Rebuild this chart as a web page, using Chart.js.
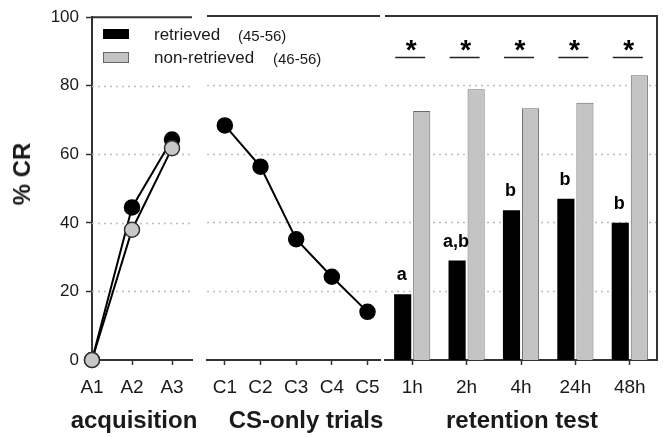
<!DOCTYPE html>
<html>
<head>
<meta charset="UTF-8">
<script src="https://cdn.jsdelivr.net/npm/chart.js@4.4.0/dist/chart.umd.min.js"></script>
<style>
*{box-sizing:border-box;margin:0;padding:0}
body{background:#fff;font-family:"Liberation Sans",Arial,sans-serif;color:#1a1a1a}
#wrap{position:relative;width:663px;height:437px;overflow:hidden}
canvas{position:absolute;top:0}
.t{position:absolute;font-weight:bold;font-size:24px;line-height:24px;text-align:center;white-space:nowrap}
.lg{position:absolute;font-size:17px;line-height:20px;white-space:nowrap}
.lg small{font-size:15px}
.box{position:absolute;width:26px}
</style>
</head>
<body>
<div id="wrap">
  <canvas id="acq" width="210" height="437" style="left:0"></canvas>
  <canvas id="cs" width="200" height="437" style="left:198px"></canvas>
  <canvas id="ret" width="280" height="437" style="left:383px"></canvas>

  <div class="box" style="left:103px;top:29px;height:10px;background:#000"></div>
  <div class="box" style="left:103px;top:52px;height:11px;background:#c4c4c4;border:1px solid #666"></div>
  <div class="lg" style="left:154px;top:25px">retrieved</div>
  <div class="lg" style="left:238px;top:26px"><small>(45-56)</small></div>
  <div class="lg" style="left:154px;top:48px">non-retrieved</div>
  <div class="lg" style="left:273px;top:49px"><small>(46-56)</small></div>

  <div class="t" style="left:22px;top:174px;transform:translate(-50%,-50%) rotate(-90deg)">% CR</div>
  <div class="t" style="left:34px;top:408px;width:200px">acquisition</div>
  <div class="t" style="left:206px;top:408px;width:200px">CS-only trials</div>
  <div class="t" style="left:422px;top:408px;width:200px">retention test</div>
</div>

<script>
const yTicks = [0, 20, 40, 60, 80, 100];

const acqLabels = ["A1", "A2", "A3"];
const acqRetrieved = [0, 44.5, 64.3];
const acqNonRetrieved = [0, 38, 61.8];

const csLabels = ["C1", "C2", "C3", "C4", "C5"];
const csRetrieved = [68.2, 56.2, 35.1, 24.2, 14];

const retLabels = ["1h", "2h", "4h", "24h", "48h"];
const retRetrieved = [19.1, 28.9, 43.5, 46.9, 39.9];
const retNonRetrieved = [72.4, 78.7, 73.2, 74.8, 82.8];
const retLetters = ["a", "a,b", "b", "b", "b"];

const ink = "#333", txt = "#1a1a1a";
const tickFont = { family: "'Liberation Sans', Arial, sans-serif", size: 19 };
const toPts = vals => vals.map((v, i) => ({ x: i, y: v }));

// dotted grid + top frame (and right frame for the bar panel)
const frame = {
  id: "frame",
  beforeDatasetsDraw(chart, args, opts) {
    const { ctx, chartArea: a, scales: { y } } = chart;
    ctx.save();
    ctx.setLineDash([2, 4]);
    ctx.strokeStyle = "#bdbdbd";
    ctx.lineWidth = 1.5;
    yTicks.filter(v => v > 0 && v < 100).forEach(v => {
      const py = Math.round(y.getPixelForValue(v)) + 0.5;
      ctx.beginPath(); ctx.moveTo(a.left, py); ctx.lineTo(a.right, py); ctx.stroke();
    });
    ctx.restore();
  },
  afterDraw(chart, args, opts) {
    const { ctx, chartArea: a } = chart;
    ctx.save();
    ctx.strokeStyle = ink;
    ctx.lineWidth = 2;
    ctx.beginPath(); ctx.moveTo(a.left, a.top); ctx.lineTo(a.right, a.top); ctx.stroke();
    if (opts.right) {
      ctx.beginPath(); ctx.moveTo(a.right, a.top - 1); ctx.lineTo(a.right, a.bottom); ctx.stroke();
    }
    ctx.restore();
  }
};

const xLinear = (labels, min, max) => ({
  type: "linear", min, max,
  afterBuildTicks: s => { s.ticks = labels.map((_, i) => ({ value: i })); },
  afterFit: s => { s.height = 77; },
  border: { color: ink, width: 2 },
  grid: { drawOnChartArea: false, tickLength: 5, tickColor: ink, tickWidth: 1.5 },
  ticks: { color: txt, font: tickFont, padding: 11, maxRotation: 0, callback: v => labels[v] }
});
const yHidden = { display: false, min: 0, max: 100 };

const lineSet = (data, fill, order) => ({
  data: toPts(data), borderColor: "#000", borderWidth: 2,
  pointRadius: 7.5, pointBackgroundColor: fill, pointBorderColor: fill === "#000" ? "#000" : "#333",
  pointBorderWidth: 1.5, clip: false, order
});

new Chart(document.getElementById("acq"), {
  type: "line",
  data: { datasets: [lineSet(acqNonRetrieved, "#c8c8c8", 1), lineSet(acqRetrieved, "#000", 2)] },
  options: {
    responsive: false, animation: false,
    layout: { padding: { top: 16, right: 18, left: 0, bottom: 0 } },
    plugins: { legend: { display: false }, tooltip: { enabled: false }, frame: {} },
    scales: {
      x: xLinear(acqLabels, 0, 2.5),
      y: {
        min: 0, max: 100,
        afterBuildTicks: s => { s.ticks = yTicks.map(v => ({ value: v })); },
        afterFit: s => { s.width = 92; },
        border: { color: ink, width: 2 },
        grid: { drawOnChartArea: false, tickLength: 6, tickColor: ink, tickWidth: 1.5 },
        ticks: { color: txt, font: { ...tickFont, size: 17 }, padding: 7 }
      }
    }
  },
  plugins: [frame]
});

new Chart(document.getElementById("cs"), {
  type: "line",
  data: { datasets: [lineSet(csRetrieved, "#000", 1)] },
  options: {
    responsive: false, animation: false,
    layout: { padding: { top: 16, right: 18, left: 9, bottom: 0 } },
    plugins: { legend: { display: false }, tooltip: { enabled: false }, frame: {} },
    scales: { x: xLinear(csLabels, -0.5, 4.35), y: yHidden }
  },
  plugins: [frame]
});

// significance stars and group letters over the bars
const marks = {
  id: "marks",
  afterDatasetsDraw(chart) {
    const { ctx, scales: { y } } = chart;
    const m0 = chart.getDatasetMeta(0), m1 = chart.getDatasetMeta(1);
    ctx.save();
    ctx.fillStyle = "#000";
    ctx.strokeStyle = "#222";
    ctx.lineWidth = 1.5;
    ctx.textAlign = "center";
    ctx.textBaseline = "alphabetic";
    m0.data.forEach((bar, i) => {
      const cx = (bar.x + m1.data[i].x) / 2 - 2;
      const ly = Math.round(y.getPixelForValue(88)) + 0.5;
      ctx.beginPath(); ctx.moveTo(cx - 15, ly); ctx.lineTo(cx + 15, ly); ctx.stroke();
      ctx.font = "bold 28px 'Liberation Sans', Arial, sans-serif";
      ctx.fillText("*", cx + 1, ly + 1);
      ctx.font = "bold 18px 'Liberation Sans', Arial, sans-serif";
      ctx.fillText(retLetters[i], bar.x - 1, bar.y - 14);
    });
    ctx.restore();
  }
};

new Chart(document.getElementById("ret"), {
  type: "bar",
  data: {
    labels: retLabels,
    datasets: [
      { data: retRetrieved, backgroundColor: "#000", borderWidth: 0 },
      { data: retNonRetrieved, backgroundColor: "#c4c4c4", borderColor: "#6a6a6a", borderWidth: 1 }
    ]
  },
  options: {
    responsive: false, animation: false,
    categoryPercentage: 0.7, barPercentage: 0.9,
    layout: { padding: { top: 16, right: 6, left: 2, bottom: 0 } },
    plugins: { legend: { display: false }, tooltip: { enabled: false }, frame: { right: true } },
    scales: {
      x: {
        afterFit: s => { s.height = 77; },
        border: { color: ink, width: 2 },
        grid: { offset: false, drawOnChartArea: false, tickLength: 5, tickColor: ink, tickWidth: 1.5 },
        ticks: { color: txt, font: tickFont, padding: 11, maxRotation: 0 }
      },
      y: yHidden
    }
  },
  plugins: [frame, marks]
});
</script>
</body>
</html>
